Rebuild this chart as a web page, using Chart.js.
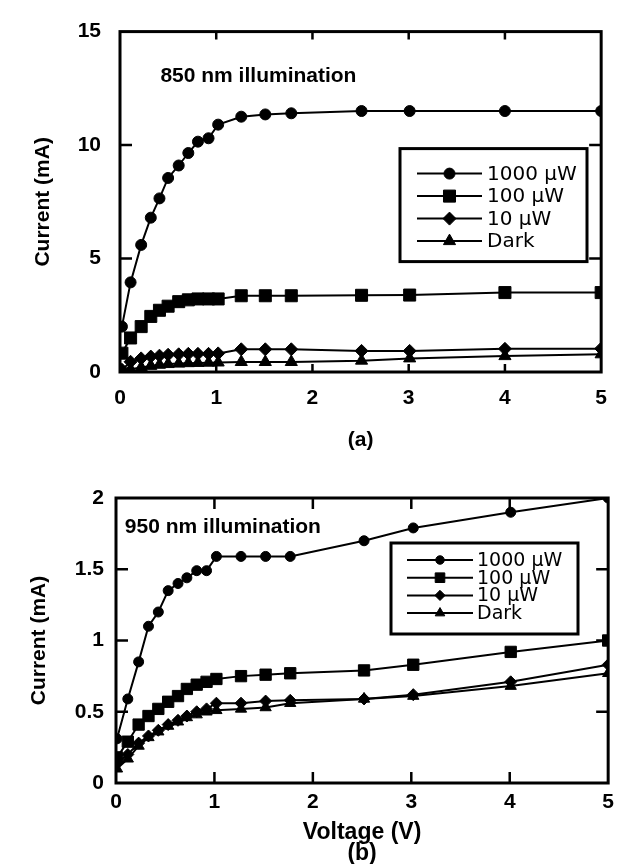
<!DOCTYPE html>
<html>
<head>
<meta charset="utf-8">
<script src="https://cdn.jsdelivr.net/npm/chart.js@4.4.1/dist/chart.umd.min.js"></script>
<style>
  html, body { margin: 0; padding: 0; background: #fff; }
  #wrap { position: relative; width: 621px; height: 864px; }
  canvas { position: absolute; left: 0; }
</style>
</head>
<body>
<div id="wrap">
  <canvas id="chartA" width="621" height="460" style="top:0"></canvas>
  <canvas id="chartB" width="621" height="404" style="top:460px"></canvas>
</div>
<script>
// series labels (same for both panels)
const seriesLabels = ['1000 \u00b5W', '100 \u00b5W', '10 \u00b5W', 'Dark'];
const seriesMarkers = ['circle', 'rect', 'rectRot', 'triangle'];

// (a) 850 nm illumination
const voltA = [0.02, 0.11, 0.22, 0.32, 0.41, 0.5, 0.61, 0.71, 0.81, 0.92, 1.02, 1.26, 1.51, 1.78, 2.51, 3.01, 4.0, 5.0];
const curA1000 = [2.0, 3.95, 5.6, 6.8, 7.65, 8.55, 9.1, 9.65, 10.15, 10.3, 10.9, 11.25, 11.35, 11.4, 11.5, 11.5, 11.5, 11.5];
const curA100 = [0.83, 1.5, 2.0, 2.45, 2.72, 2.9, 3.1, 3.18, 3.22, 3.22, 3.22, 3.36, 3.36, 3.36, 3.38, 3.39, 3.5, 3.5];
const curA10 = [0.1, 0.45, 0.6, 0.68, 0.72, 0.76, 0.78, 0.8, 0.8, 0.8, 0.82, 1.0, 1.0, 1.0, 0.93, 0.93, 1.02, 1.03];
const curADark = [0.02, 0.12, 0.2, 0.27, 0.32, 0.35, 0.37, 0.39, 0.4, 0.41, 0.42, 0.44, 0.44, 0.44, 0.5, 0.6, 0.7, 0.78];

// (b) 950 nm illumination
const voltB = [0.01, 0.12, 0.23, 0.33, 0.43, 0.53, 0.63, 0.72, 0.82, 0.92, 1.02, 1.27, 1.52, 1.77, 2.52, 3.02, 4.01, 5.0];
const curB1000 = [0.31, 0.59, 0.85, 1.1, 1.2, 1.35, 1.4, 1.44, 1.49, 1.49, 1.59, 1.59, 1.59, 1.59, 1.7, 1.79, 1.9, 2.0];
const curB100 = [0.18, 0.29, 0.41, 0.47, 0.52, 0.57, 0.61, 0.66, 0.69, 0.71, 0.73, 0.75, 0.76, 0.77, 0.79, 0.83, 0.92, 1.0];
const curB10 = [0.14, 0.2, 0.28, 0.33, 0.37, 0.41, 0.44, 0.47, 0.5, 0.52, 0.56, 0.56, 0.575, 0.58, 0.59, 0.62, 0.71, 0.83];
const curBDark = [0.1, 0.17, 0.26, 0.32, 0.36, 0.4, 0.43, 0.46, 0.48, 0.5, 0.51, 0.52, 0.53, 0.56, 0.59, 0.61, 0.68, 0.77];

Chart.defaults.font.family = "'Liberation Sans', Arial, sans-serif";
Chart.defaults.color = '#000';
Chart.defaults.animation = false;

function toPoints(xs, ys) {
  return xs.map((x, i) => ({ x: x, y: ys[i] }));
}

function makeDatasets(xs, seriesList, sizes) {
  return seriesList.map((ys, i) => ({
    label: seriesLabels[i],
    data: toPoints(xs, ys),
    pointStyle: seriesMarkers[i],
    pointRadius: sizes[i],
    pointBorderWidth: 1,
    borderColor: '#000',
    backgroundColor: '#000',
    borderWidth: 2,
    tension: 0
  }));
}

// frame, inward ticks, note text and boxed legend
const paperPlugin = {
  id: 'paper',
  afterDraw(chart) {
    const o = chart.options.plugins.paper;
    const ctx = chart.ctx;
    const a = chart.chartArea;
    const xs = chart.scales.x, ys = chart.scales.y;
    ctx.save();
    ctx.strokeStyle = '#000';
    ctx.fillStyle = '#000';

    // ticks
    ctx.lineWidth = 2.5;
    ctx.beginPath();
    xs.ticks.forEach(t => {
      const px = xs.getPixelForValue(t.value);
      if (px <= a.left + 1 || px >= a.right - 1) return;
      ctx.moveTo(px, a.bottom); ctx.lineTo(px, a.bottom - o.xTick);
      ctx.moveTo(px, a.top); ctx.lineTo(px, a.top + o.xTick);
    });
    ys.ticks.forEach(t => {
      const py = ys.getPixelForValue(t.value);
      if (py <= a.top + 1 || py >= a.bottom - 1) return;
      ctx.moveTo(a.left, py); ctx.lineTo(a.left + o.yTick, py);
      ctx.moveTo(a.right, py); ctx.lineTo(a.right - o.yTick, py);
    });
    ctx.stroke();

    // frame
    ctx.lineWidth = 3;
    ctx.strokeRect(a.left, a.top, a.right - a.left, a.bottom - a.top);

    // note
    ctx.font = 'bold 21px "Liberation Sans", Arial, sans-serif';
    ctx.textAlign = 'left';
    ctx.textBaseline = 'alphabetic';
    ctx.fillText(o.note, xs.getPixelForValue(o.noteX), ys.getPixelForValue(o.noteY));

    // legend
    const L = o.legend;
    const bx = a.left + L.x, by = a.top + L.y;
    ctx.fillStyle = '#fff';
    ctx.fillRect(bx, by, L.w, L.h);
    ctx.fillStyle = '#000';
    ctx.lineWidth = 3;
    ctx.strokeRect(bx, by, L.w, L.h);
    ctx.font = L.font;
    ctx.textBaseline = 'middle';
    chart.data.datasets.forEach((ds, i) => {
      const ry = by + L.first + i * L.step;
      ctx.lineWidth = 2;
      ctx.beginPath();
      ctx.moveTo(bx + L.lineFrom, ry);
      ctx.lineTo(bx + L.lineTo, ry);
      ctx.stroke();
      const mx = bx + (L.lineFrom + L.lineTo) / 2;
      if (Chart.helpers && Chart.helpers.drawPoint) {
        ctx.lineWidth = 1;
        Chart.helpers.drawPoint(ctx, {
          pointStyle: ds.pointStyle, radius: ds.pointRadius * L.markScale,
          rotation: 0, borderWidth: 1
        }, mx, ry);
      }
      ctx.fillText(ds.label, bx + L.textX, ry + 1);
    });
    ctx.restore();
  }
};

function makeChart(id, cfg) {
  return new Chart(document.getElementById(id), {
    type: 'line',
    data: { datasets: makeDatasets(cfg.volt, cfg.series, cfg.sizes) },
    options: {
      responsive: false,
      layout: { padding: cfg.padding },
      plugins: {
        legend: { display: false },
        tooltip: { enabled: false },
        paper: cfg.paper
      },
      scales: {
        x: {
          type: 'linear', min: 0, max: 5,
          grid: { display: false, drawTicks: false },
          border: { display: false },
          ticks: { stepSize: 1, padding: cfg.xPad, font: { size: 21, weight: 'bold' } },
          title: {
            display: true, text: cfg.xTitle,
            font: { size: cfg.xTitleSize, weight: 'bold', lineHeight: cfg.xTitleLH },
            padding: { top: 0, bottom: cfg.xTitlePadB }
          },
          afterFit: s => { s.height = cfg.xHeight; }
        },
        y: {
          type: 'linear', min: 0, max: cfg.yMax,
          grid: { display: false, drawTicks: false },
          border: { display: false },
          ticks: {
            stepSize: cfg.yStep, padding: cfg.yPad,
            font: { size: 21, weight: 'bold' },
            callback: v => String(v)
          },
          title: {
            display: true, text: 'Current (mA)',
            font: { size: 21, weight: 'bold', lineHeight: 1.2 },
            padding: { top: cfg.yTitlePadT, bottom: 0 }
          },
          afterFit: s => { s.width = cfg.yWidth; }
        }
      }
    },
    plugins: [paperPlugin]
  });
}

makeChart('chartA', {
  volt: voltA,
  series: [curA1000, curA100, curA10, curADark],
  sizes: [5.5, 8.5, 6.5, 7],
  padding: { top: 22, right: 4, left: 0, bottom: 0 },
  xHeight: 88, yWidth: 120,
  xPad: 14, yPad: 19,
  xTitle: '(a)', xTitleSize: 21, xTitleLH: 1.2, xTitlePadB: 7,
  yMax: 15, yStep: 5, yTitlePadT: 31,
  paper: {
    xTick: 8, yTick: 12,
    note: '850 nm illumination', noteX: 0.42, noteY: 12.8,
    legend: { x: 280, y: 117, w: 187, h: 113, first: 25, step: 22.5,
              lineFrom: 17, lineTo: 82, textX: 87, markScale: 1,
              font: '20px "DejaVu Sans", sans-serif' }
  }
});

makeChart('chartB', {
  volt: voltB,
  series: [curB1000, curB100, curB10, curBDark],
  sizes: [5, 8, 6, 6.5],
  padding: { top: 38, right: 8, left: 0, bottom: 0 },
  xHeight: 81, yWidth: 116,
  xPad: 7, yPad: 12,
  xTitle: ['Voltage (V)', '(b)'], xTitleSize: 23, xTitleLH: 0.92, xTitlePadB: 0,
  yMax: 2, yStep: 0.5, yTitlePadT: 27,
  paper: {
    xTick: 11, yTick: 12,
    note: '950 nm illumination', noteX: 0.09, noteY: 1.755,
    legend: { x: 275, y: 45, w: 187, h: 91, first: 17, step: 17.7,
              lineFrom: 16, lineTo: 82, textX: 86, markScale: 0.85,
              font: '19px "DejaVu Sans", sans-serif' }
  }
});
</script>
</body>
</html>
